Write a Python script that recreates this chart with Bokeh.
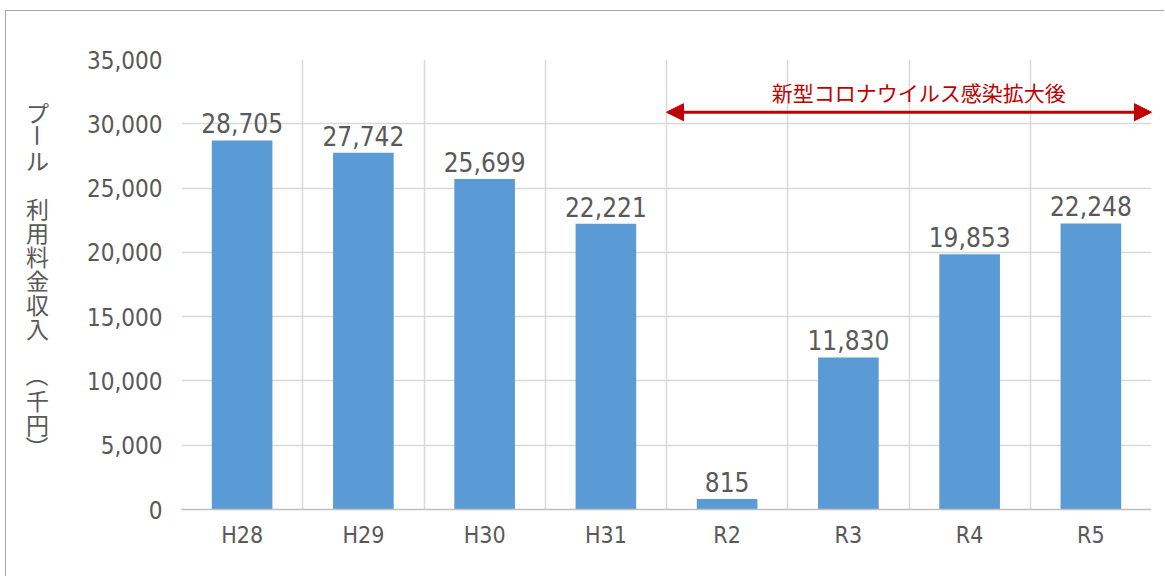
import math
from bokeh.plotting import figure
from bokeh.layouts import row
from bokeh.models import (ColumnDataSource, FixedTicker, NumeralTickFormatter, Range1d,
                          Arrow, NormalHead, Label)
from bokeh.core.properties import value
from bokeh.embed import file_html
from bokeh.resources import INLINE

# ---- data ----
categories = ["H28", "H29", "H30", "H31", "R2", "R3", "R4", "R5"]
revenue = [28705, 27742, 25699, 22221, 815, 11830, 19853, 22248]
y_ticks = [0, 5000, 10000, 15000, 20000, 25000, 30000, 35000]
covid_text = "新型コロナウイルス感染拡大後"
covid_start_idx = 4  # R2
y_label_text = "プール 利用料金収入 （千円）"

NUM_FONT = "'DejaVu Sans Condensed', sans-serif"
JP_FONT = "'Noto Sans CJK JP', sans-serif"
TXT = "#595959"
BAR = "#5B9BD5"
GRID = "#D9D9D9"
RED = "#C00000"

n = len(categories)
xc = [i + 0.5 for i in range(n)]
src = ColumnDataSource(dict(x=xc, top=revenue, lab=[f"{v:,}" for v in revenue]))

LW = 50                      # width of the side panel holding the vertical title
BL, BT, BB, BR = 125, 48, 67, 13
FW, FH = 970, 450

p = figure(frame_width=FW, frame_height=FH,
           min_border_left=BL, min_border_top=BT, min_border_bottom=BB, min_border_right=BR,
           x_range=Range1d(0, n), y_range=Range1d(0, 35000),
           output_backend="svg", toolbar_location=None)
p.outline_line_color = None
p.background_fill_color = "white"
p.border_fill_color = "white"

# grids
p.ygrid.ticker = FixedTicker(ticks=y_ticks)
p.ygrid.grid_line_color = GRID
p.ygrid.grid_line_width = 1.5
p.xgrid.ticker = FixedTicker(ticks=list(range(n + 1)))
p.xgrid.grid_line_color = GRID
p.xgrid.grid_line_width = 1.5

# bars
p.vbar(x="x", top="top", width=0.5, source=src, fill_color=BAR, line_color=None)

# data labels
p.text(x="x", y="top", text="lab", source=src, text_align="center", text_baseline="bottom",
       y_offset=-7, text_font=value(NUM_FONT), text_font_size="26px", text_color=TXT)

# axes
p.xaxis.ticker = FixedTicker(ticks=xc)
p.xaxis.major_label_overrides = {x: c for x, c in zip(xc, categories)}
p.xaxis.axis_line_color = "#BFBFBF"
p.xaxis.axis_line_width = 1.5
p.xaxis.major_tick_line_color = None
p.xaxis.minor_tick_line_color = None
p.xaxis.major_label_text_font = NUM_FONT
p.xaxis.major_label_text_font_size = "23px"
p.xaxis.major_label_text_color = TXT
p.xaxis.major_label_standoff = 6

p.yaxis.ticker = FixedTicker(ticks=y_ticks)
p.yaxis.formatter = NumeralTickFormatter(format="0,0")
p.yaxis.axis_line_color = None
p.yaxis.major_tick_line_color = None
p.yaxis.minor_tick_line_color = None
p.yaxis.major_label_text_font = NUM_FONT
p.yaxis.major_label_text_font_size = "24px"
p.yaxis.major_label_text_color = TXT
p.yaxis.major_label_standoff = 13

# covid arrow + text
arrow_y = 30900
head = dict(size=17, fill_color=RED, line_color=RED)
p.add_layout(Arrow(x_start=covid_start_idx, y_start=arrow_y, x_end=n, y_end=arrow_y,
                   start=NormalHead(**head), end=NormalHead(**head),
                   line_color=RED, line_width=3))
p.add_layout(Label(x=(covid_start_idx + n) / 2 + 0.08, y=32450, text=covid_text,
                   text_align="center", text_baseline="middle",
                   text_font=JP_FONT, text_font_size="21px", text_color=RED))

# side panel (frame aligned with the main frame): vertical title, one character per line
side = figure(frame_width=LW, frame_height=FH, x_range=Range1d(0, LW), y_range=Range1d(FH, 0),
              x_axis_location=None, y_axis_location=None,
              min_border_left=0, min_border_right=0, min_border_top=0, min_border_bottom=0,
              output_backend="svg", toolbar_location=None)
side.title.visible = False
side.outline_line_color = None
side.xgrid.visible = False
side.ygrid.visible = False
chars, cx, cy, ca = [], [], [], []
for k, ch in enumerate(y_label_text):
    if ch == " ":
        continue
    chars.append(ch)
    cx.append(31)
    cy.append(52 + 24 * k)
    ca.append(-math.pi / 2 if ch in "ー（）" else 0.0)
side.text(x=cx, y=cy, text=chars, angle=ca, text_align="center", text_baseline="middle",
          text_font=value(JP_FONT), text_font_size="23px", text_color=TXT)

layout = row(side, p, spacing=0,
             styles={"border-left": "1px solid #A6A6A6", "border-top": "1px solid #A6A6A6",
                     "margin-left": "5px", "margin-top": "10px"})

open("out.html", "w").write(file_html(layout, INLINE))
